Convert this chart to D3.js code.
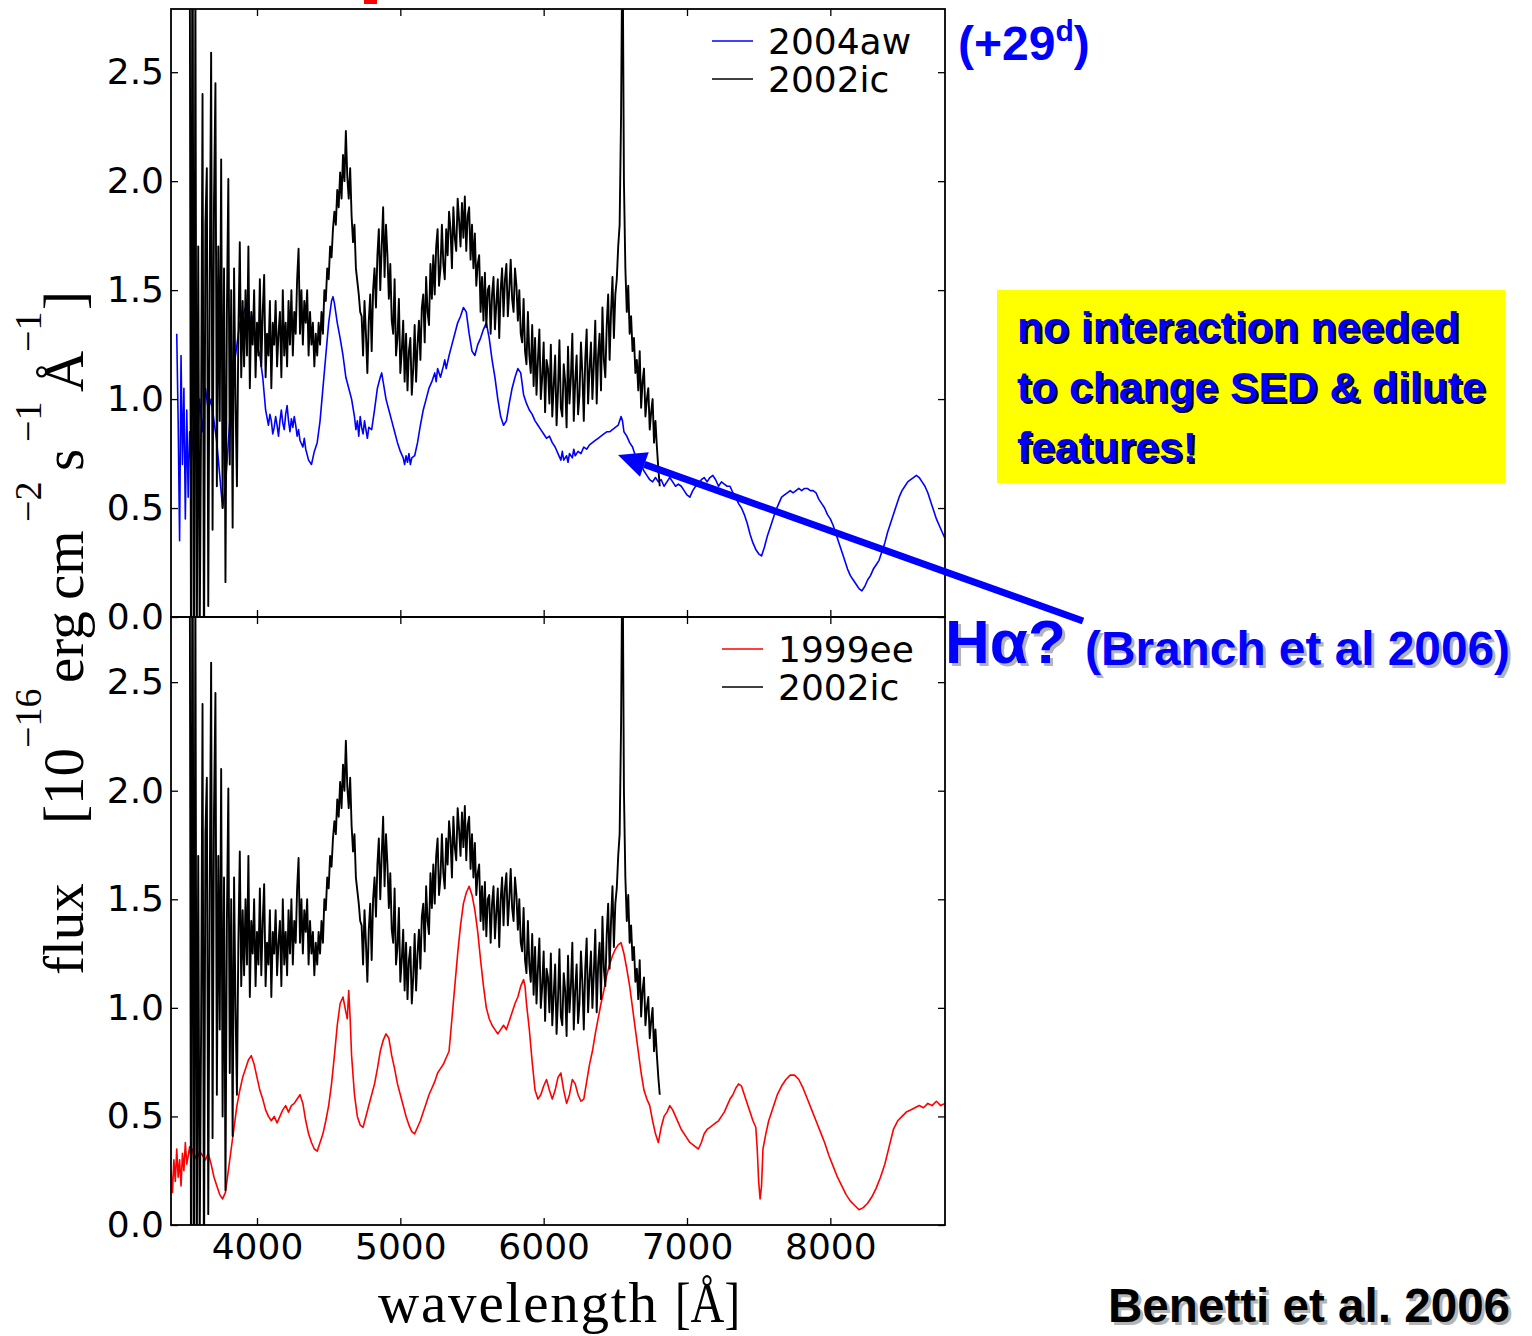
<!DOCTYPE html>
<html>
<head>
<meta charset="utf-8">
<script src="https://cdn.jsdelivr.net/npm/d3@7/dist/d3.min.js"></script>
<style>
  body { margin: 0; background: #fff; }
  svg { display: block; }
  .tick text { font-family: "DejaVu Sans", sans-serif; font-size: 36px; fill: #000; }
  .tick line { stroke: #000; stroke-width: 1.3px; }
</style>
</head>
<body>
<div id="chart"></div>
<script>
// spectra of SN 2004aw, SN 1999ee vs SN 2002ic

var waveTicks = [4000, 5000, 6000, 7000, 8000];
var fluxTicks = [0.0, 0.5, 1.0, 1.5, 2.0, 2.5];

// 2002ic: flux on a 10 A grid starting at 3530 A
var ic2002Start = 3530, ic2002Step = 10;
var sn2002ic = [
  3.5, -0.4, 3.8, -0.6, 3.0, -0.2, 1.7, -0.1, 0.9, 2.4,
  -0.3, 1.8, 2.06, 0.05, 1.5, 2.59, 0.4, 1.9, 2.45, 0.6,
  1.7, 0.9, 2.1, 0.5, 1.6, 0.16, 1.4, 2.01, 0.7, 1.5,
  0.41, 1.6, 1.0, 0.6, 1.3, 1.72, 1.1, 1.45, 1.15, 1.5,
  1.2, 1.7, 1.05, 1.4, 1.25, 1.5, 1.1, 1.35, 1.2, 1.55,
  1.15, 1.4, 1.57, 1.1, 1.3, 1.2, 1.45, 1.05, 1.35, 1.25,
  1.45, 1.15, 1.3, 1.4, 1.1, 1.5, 1.2, 1.35, 1.15, 1.45,
  1.25, 1.5, 1.2, 1.4, 1.3, 1.55, 1.69, 1.3, 1.5, 1.25,
  1.45, 1.35, 1.5, 1.2, 1.4, 1.25, 1.35, 1.15, 1.3, 1.2,
  1.35, 1.25, 1.4, 1.3, 1.5, 1.45, 1.6, 1.55, 1.7, 1.65,
  1.78, 1.86, 1.8, 1.96, 1.88, 2.04, 1.92, 2.12, 2.0, 2.23,
  2.02, 1.92, 2.06, 1.84, 1.72, 1.8, 1.6, 1.54, 1.48, 1.4,
  1.38, 1.2, 1.45, 1.3, 1.12, 1.36, 1.48, 1.22, 1.5, 1.6,
  1.42, 1.66, 1.78, 1.5, 1.7, 1.88, 1.56, 1.8, 1.66, 1.46,
  1.62, 1.36, 1.3, 1.55, 1.2, 1.28, 1.46, 1.12, 1.22, 1.36,
  1.08, 1.3, 1.04, 1.22, 1.28, 1.02, 1.14, 1.34, 1.08, 1.25,
  1.36, 1.18, 1.42, 1.48, 1.26, 1.56, 1.4, 1.34, 1.62, 1.46,
  1.66, 1.48, 1.7, 1.78, 1.52, 1.6, 1.8, 1.62, 1.55, 1.78,
  1.66, 1.86, 1.78, 1.6, 1.88, 1.74, 1.68, 1.92, 1.82, 1.7,
  1.9, 1.74, 1.93, 1.68, 1.84, 1.88, 1.64, 1.8, 1.6, 1.76,
  1.52, 1.62, 1.66, 1.4, 1.56, 1.36, 1.58, 1.33, 1.5, 1.52,
  1.3, 1.48, 1.56, 1.32, 1.44, 1.55, 1.28, 1.5, 1.6, 1.38,
  1.55, 1.62, 1.38, 1.5, 1.64, 1.46, 1.4, 1.6, 1.52, 1.36,
  1.5, 1.3, 1.26, 1.46, 1.22, 1.16, 1.4, 1.2, 1.12, 1.34,
  1.06, 1.28, 1.02, 1.18, 1.32, 1.0, 1.1, 1.26, 0.94, 1.18,
  1.14, 0.98, 1.25, 0.92, 1.06, 1.2, 0.88, 1.04, 1.27, 0.96,
  0.92, 1.16, 1.08, 0.87, 1.24, 0.98, 1.1, 1.3, 0.9, 1.08,
  1.2, 0.93, 1.02, 1.26, 1.12, 0.9, 1.18, 1.32, 0.98, 1.14,
  1.26, 1.0, 1.16, 1.36, 0.98, 1.2, 1.3, 1.04, 1.42, 1.18,
  1.1, 1.34, 1.48, 1.18, 1.4, 1.56, 1.28, 1.48, 1.55, 1.7,
  1.8, 2.3, 3.2, 2.0, 1.6, 1.4, 1.52, 1.3, 1.38, 1.22,
  1.28, 1.12, 1.18, 1.04, 1.22, 0.96, 1.08, 1.14, 0.92, 1.0,
  1.05, 0.86, 0.94, 1.0, 0.8, 0.9, 0.78, 0.68, 0.6
];

// 2004aw: [wavelength, flux]
var sn2004aw = [
  [3440,1.3],[3450,0.9],[3460,0.35],[3470,1.2],[3480,0.7],[3490,1.05],[3500,0.45],[3510,0.95],
  [3520,0.55],[3530,0.85],[3540,0.7],[3560,0.9],[3580,0.75],[3600,1.0],[3620,0.85],[3640,1.05],
  [3660,0.95],[3680,1.0],[3700,0.9],[3720,0.8],[3740,0.65],[3760,0.5],[3780,0.6],[3800,0.8],
  [3820,1.0],[3840,1.15],[3860,1.25],[3880,1.35],[3900,1.38],[3920,1.42],[3940,1.4],[3960,1.35],
  [3980,1.3],[4000,1.25],[4020,1.2],[4040,1.1],[4060,0.95],[4080,0.88],[4090,0.93],[4100,0.9],
  [4110,0.84],[4120,0.87],[4130,0.92],[4140,0.88],[4150,0.83],[4160,0.9],[4170,0.95],[4180,0.89],
  [4190,0.86],[4200,0.93],[4210,0.97],[4220,0.9],[4230,0.85],[4240,0.91],[4250,0.87],[4260,0.92],
  [4270,0.88],[4280,0.83],[4290,0.86],[4300,0.81],[4320,0.78],[4330,0.82],[4340,0.77],[4360,0.72],
  [4380,0.7],[4400,0.76],[4420,0.8],[4440,0.9],[4460,1.05],[4480,1.2],[4500,1.35],[4520,1.45],
  [4530,1.47],[4540,1.44],[4560,1.35],[4580,1.28],[4600,1.2],[4620,1.1],[4640,1.05],[4660,1.0],
  [4680,0.92],[4690,0.86],[4700,0.9],[4710,0.83],[4720,0.92],[4730,0.87],[4740,0.84],[4750,0.9],
  [4760,0.86],[4770,0.82],[4780,0.87],[4800,0.86],[4820,0.95],[4840,1.05],[4860,1.1],[4870,1.12],
  [4880,1.08],[4900,1.0],[4920,0.95],[4940,0.9],[4960,0.85],[4980,0.8],[5000,0.76],[5020,0.73],
  [5030,0.7],[5040,0.74],[5050,0.71],[5060,0.75],[5070,0.7],[5080,0.73],[5100,0.74],[5120,0.8],
  [5140,0.88],[5160,0.95],[5180,1.0],[5200,1.05],[5220,1.08],[5240,1.12],[5250,1.08],[5260,1.14],
  [5280,1.1],[5300,1.15],[5310,1.18],[5320,1.14],[5340,1.2],[5360,1.25],[5380,1.3],[5400,1.35],
  [5420,1.38],[5440,1.42],[5460,1.4],[5480,1.3],[5500,1.22],[5520,1.2],[5540,1.25],[5560,1.28],
  [5580,1.32],[5600,1.35],[5620,1.28],[5640,1.18],[5660,1.1],[5680,1.0],[5700,0.92],[5720,0.88],
  [5740,0.9],[5760,0.98],[5780,1.05],[5800,1.1],[5820,1.14],[5840,1.12],[5860,1.02],[5880,0.98],
  [5900,0.95],[5920,0.93],[5940,0.9],[5960,0.88],[5980,0.86],[6000,0.84],[6020,0.82],[6040,0.83],
  [6060,0.8],[6080,0.78],[6100,0.75],[6120,0.72],[6130,0.76],[6140,0.72],[6160,0.74],[6170,0.71],
  [6180,0.75],[6200,0.73],[6210,0.77],[6220,0.74],[6240,0.76],[6260,0.75],[6280,0.78],[6300,0.77],
  [6320,0.79],[6340,0.8],[6360,0.81],[6380,0.82],[6400,0.83],[6420,0.84],[6440,0.85],[6460,0.85],
  [6480,0.86],[6500,0.87],[6520,0.88],[6540,0.92],[6550,0.9],[6560,0.85],[6580,0.83],[6600,0.8],
  [6620,0.78],[6640,0.74],[6660,0.72],[6680,0.7],[6700,0.67],[6720,0.65],[6740,0.63],[6760,0.62],
  [6780,0.64],[6800,0.62],[6820,0.63],[6840,0.6],[6860,0.62],[6880,0.64],[6900,0.62],[6920,0.6],
  [6940,0.61],[6960,0.6],[6980,0.58],[7000,0.56],[7020,0.55],[7040,0.58],[7060,0.6],[7080,0.61],
  [7100,0.63],[7120,0.64],[7140,0.62],[7160,0.64],[7180,0.65],[7200,0.63],[7220,0.6],[7240,0.62],
  [7260,0.61],[7280,0.6],[7300,0.6],[7320,0.57],[7340,0.55],[7360,0.52],[7380,0.5],[7400,0.47],
  [7420,0.43],[7440,0.38],[7460,0.34],[7480,0.31],[7500,0.29],[7520,0.28],[7540,0.32],[7560,0.37],
  [7580,0.41],[7600,0.45],[7620,0.49],[7640,0.52],[7660,0.55],[7680,0.56],[7700,0.57],[7720,0.58],
  [7740,0.57],[7760,0.58],[7780,0.59],[7800,0.58],[7820,0.59],[7840,0.59],[7860,0.58],[7880,0.58],
  [7900,0.57],[7920,0.54],[7940,0.52],[7960,0.5],[7980,0.47],[8000,0.45],[8020,0.42],[8040,0.38],
  [8060,0.34],[8080,0.3],[8100,0.26],[8120,0.22],[8140,0.19],[8160,0.17],[8180,0.15],[8200,0.13],
  [8220,0.12],[8240,0.14],[8260,0.17],[8280,0.19],[8300,0.22],[8320,0.24],[8340,0.26],[8360,0.3],
  [8380,0.34],[8400,0.39],[8420,0.43],[8440,0.47],[8460,0.51],[8480,0.55],[8500,0.58],[8520,0.6],
  [8540,0.62],[8560,0.63],[8580,0.64],[8600,0.65],[8620,0.64],[8640,0.62],[8660,0.6],[8680,0.57],
  [8700,0.53],[8720,0.49],[8740,0.45],[8760,0.42],[8780,0.39],[8800,0.36]
];

// 1999ee: [wavelength, flux]
var sn1999ee = [
  [3400,0.25],[3410,0.15],[3420,0.3],[3430,0.2],[3440,0.35],[3450,0.22],[3460,0.3],[3470,0.18],
  [3480,0.33],[3490,0.25],[3500,0.38],[3510,0.28],[3520,0.32],[3530,0.36],[3540,0.3],[3550,0.35],
  [3560,0.33],[3580,0.3],[3600,0.34],[3620,0.32],[3640,0.3],[3660,0.33],[3680,0.28],[3700,0.22],
  [3720,0.18],[3740,0.14],[3760,0.12],[3780,0.15],[3800,0.25],[3820,0.35],[3840,0.45],[3860,0.55],
  [3880,0.62],[3900,0.68],[3920,0.72],[3940,0.76],[3960,0.78],[3980,0.74],[4000,0.68],[4020,0.62],
  [4040,0.58],[4060,0.53],[4080,0.5],[4100,0.48],[4120,0.5],[4140,0.47],[4160,0.5],[4180,0.53],
  [4200,0.55],[4220,0.52],[4240,0.55],[4260,0.56],[4280,0.58],[4300,0.6],[4320,0.56],[4340,0.48],
  [4360,0.42],[4380,0.38],[4400,0.35],[4420,0.34],[4440,0.38],[4460,0.42],[4480,0.48],[4500,0.55],
  [4520,0.65],[4540,0.78],[4560,0.92],[4580,1.02],[4600,1.05],[4620,0.98],[4630,0.95],[4640,1.08],
  [4650,0.95],[4660,0.78],[4680,0.6],[4700,0.5],[4720,0.46],[4740,0.45],[4760,0.5],[4780,0.55],
  [4800,0.6],[4820,0.65],[4840,0.72],[4860,0.8],[4880,0.85],[4900,0.88],[4920,0.86],[4940,0.78],
  [4960,0.72],[4980,0.65],[5000,0.6],[5020,0.55],[5040,0.5],[5060,0.46],[5080,0.43],[5100,0.42],
  [5120,0.45],[5140,0.48],[5160,0.52],[5180,0.56],[5200,0.6],[5220,0.63],[5240,0.66],[5260,0.7],
  [5280,0.72],[5300,0.74],[5320,0.77],[5340,0.8],[5360,0.95],[5380,1.1],[5400,1.25],[5420,1.38],
  [5440,1.48],[5460,1.53],[5480,1.56],[5500,1.52],[5520,1.45],[5540,1.35],[5560,1.22],[5580,1.1],
  [5600,1.0],[5620,0.95],[5640,0.92],[5660,0.9],[5680,0.88],[5700,0.9],[5720,0.92],[5740,0.9],
  [5760,0.94],[5780,0.98],[5800,1.02],[5820,1.05],[5840,1.1],[5860,1.13],[5870,1.1],[5880,1.02],
  [5900,0.9],[5920,0.75],[5940,0.62],[5960,0.58],[5980,0.6],[6000,0.64],[6020,0.67],[6040,0.62],
  [6060,0.58],[6080,0.62],[6100,0.68],[6120,0.7],[6140,0.62],[6160,0.56],[6180,0.6],[6200,0.67],
  [6220,0.65],[6240,0.6],[6260,0.57],[6280,0.58],[6300,0.66],[6320,0.74],[6340,0.8],[6360,0.88],
  [6380,0.95],[6400,1.02],[6420,1.08],[6440,1.15],[6460,1.2],[6480,1.24],[6500,1.27],[6520,1.29],
  [6540,1.3],[6560,1.25],[6580,1.18],[6600,1.1],[6620,1.0],[6640,0.9],[6660,0.8],[6680,0.7],
  [6700,0.62],[6720,0.58],[6740,0.55],[6760,0.48],[6780,0.42],[6800,0.38],[6820,0.45],[6840,0.5],
  [6860,0.52],[6880,0.55],[6900,0.53],[6920,0.5],[6940,0.47],[6960,0.44],[6980,0.42],[7000,0.4],
  [7020,0.38],[7040,0.37],[7060,0.36],[7080,0.35],[7100,0.38],[7120,0.42],[7140,0.44],[7160,0.45],
  [7180,0.46],[7200,0.47],[7220,0.48],[7240,0.5],[7260,0.52],[7280,0.55],[7300,0.58],[7320,0.6],
  [7340,0.63],[7360,0.65],[7380,0.64],[7400,0.6],[7420,0.56],[7440,0.52],[7460,0.48],[7480,0.45],
  [7490,0.35],[7500,0.2],[7510,0.12],[7520,0.18],[7530,0.35],[7550,0.42],[7570,0.48],[7600,0.54],
  [7630,0.6],[7660,0.64],[7690,0.67],[7720,0.69],[7750,0.69],[7780,0.67],[7810,0.63],[7840,0.58],
  [7870,0.53],[7900,0.48],[7930,0.43],[7960,0.38],[7990,0.32],[8020,0.27],[8050,0.22],[8080,0.18],
  [8110,0.14],[8140,0.11],[8170,0.09],[8200,0.07],[8230,0.08],[8260,0.1],[8290,0.13],[8320,0.17],
  [8350,0.22],[8380,0.28],[8410,0.36],[8440,0.44],[8470,0.48],[8500,0.5],[8530,0.52],[8560,0.53],
  [8590,0.54],[8620,0.55],[8650,0.54],[8680,0.56],[8710,0.55],[8740,0.57],[8770,0.55],[8800,0.56]
];

var ic2002 = sn2002ic.map(function(f, i){ return [ic2002Start + i*ic2002Step, f]; });

var width = 1532, height = 1336;
var left = 171, right = 945;

var svg = d3.select("#chart").append("svg")
    .attr("width", width).attr("height", height);

var x = d3.scaleLinear().domain([3400, 8800]).range([left, right]);

var panels = [
    { top: 9,   bottom: 617,  ymax: 2.79, series: [{d: sn2004aw, c: "#0000ff", name: "2004aw", w: 1.6}, {d: ic2002, c: "#000", name: "2002ic", w: 1.9}], xlabels: false, legX: 712 },
    { top: 617, bottom: 1225, ymax: 2.8,  series: [{d: sn1999ee, c: "#ff0000", name: "1999ee", w: 1.6}, {d: ic2002, c: "#000", name: "2002ic", w: 1.9}], xlabels: true,  legX: 722 }
];

panels.forEach(function(p, k){
    var y = d3.scaleLinear().domain([0, p.ymax]).range([p.bottom, p.top]);

    svg.append("clipPath").attr("id", "clip" + k)
        .append("rect").attr("x", left).attr("y", p.top)
        .attr("width", right - left).attr("height", p.bottom - p.top);

    var line = d3.line().x(function(d){ return x(d[0]); }).y(function(d){ return y(d[1]); });

    var g = svg.append("g").attr("clip-path", "url(#clip" + k + ")");
    p.series.forEach(function(s){
        g.append("path").datum(s.d)
            .attr("d", line)
            .attr("fill", "none")
            .attr("stroke", s.c)
            .attr("stroke-width", s.w)
            .attr("stroke-linejoin", "round");
    });

    // axes, ticks pointing inward
    svg.append("g").attr("transform", "translate(" + left + ",0)")
        .call(d3.axisLeft(y).tickValues(fluxTicks).tickSize(-7).tickPadding(7).tickFormat(d3.format(".1f")));
    svg.append("g").attr("transform", "translate(" + right + ",0)")
        .call(d3.axisRight(y).tickValues(fluxTicks).tickSize(-7).tickFormat(""));
    svg.append("g").attr("transform", "translate(0," + p.top + ")")
        .call(d3.axisTop(x).tickValues(waveTicks).tickSize(-7).tickFormat(""));
    svg.append("g").attr("transform", "translate(0," + p.bottom + ")")
        .call(d3.axisBottom(x).tickValues(waveTicks).tickSize(-7).tickPadding(8)
            .tickFormat(p.xlabels ? d3.format("d") : ""));

    svg.append("rect").attr("x", left).attr("y", p.top)
        .attr("width", right - left).attr("height", p.bottom - p.top)
        .attr("fill", "none").attr("stroke", "#000").attr("stroke-width", 1.8);

    // legend
    p.series.forEach(function(s, i){
        var ly = p.top + 32 + i * 38;
        svg.append("line").attr("x1", p.legX).attr("x2", p.legX + 41)
            .attr("y1", ly).attr("y2", ly)
            .attr("stroke", s.c).attr("stroke-width", 1.6);
        svg.append("text").attr("x", p.legX + 56).attr("y", ly + 13)
            .attr("font-family", "DejaVu Sans").attr("font-size", 36)
            .text(s.name);
    });
});

svg.selectAll(".domain").remove();

// axis labels
var serif = "Liberation Serif, Times New Roman, serif";
svg.append("text").attr("x", 378).attr("y", 1322)
    .attr("font-family", serif).attr("font-size", 57)
    .attr("textLength", 279).attr("lengthAdjust", "spacing")
    .text("wavelength");
svg.append("text").attr("x", 675).attr("y", 1322)
    .attr("font-family", serif).attr("font-size", 57)
    .attr("textLength", 65).attr("lengthAdjust", "spacingAndGlyphs")
    .text("[Å]");

var ylab = [
    {t: "flux", x: 83, y: 975, s: 57},
    {t: "[10", x: 83, y: 824, s: 57},
    {t: "\u221216", x: 41, y: 748, s: 38},
    {t: "erg", x: 83, y: 683, s: 57},
    {t: "cm", x: 83, y: 600, s: 57},
    {t: "\u22122", x: 41, y: 522, s: 38},
    {t: "s", x: 83, y: 471, s: 57},
    {t: "\u22121", x: 41, y: 442, s: 38},
    {t: "Å", x: 83, y: 392, s: 57},
    {t: "\u22121", x: 41, y: 352, s: 38},
    {t: "]", x: 83, y: 310, s: 57}
];
svg.selectAll(".ylab").data(ylab).enter().append("text")
    .attr("class", "ylab")
    .attr("transform", function(d){ return "translate(" + d.x + "," + d.y + ") rotate(-90)"; })
    .attr("font-family", serif).attr("font-size", function(d){ return d.s; })
    .text(function(d){ return d.t; });

// slide annotations
var sans = "Liberation Sans, Arial, sans-serif";
svg.append("rect").attr("x", 364).attr("y", 0).attr("width", 13).attr("height", 4).attr("fill", "#ff0000");

var t29 = svg.append("text").attr("x", 958).attr("y", 60)
    .attr("font-family", sans).attr("font-weight", "bold").attr("font-size", 48).attr("fill", "#0000ff");
t29.append("tspan").text("(+29");
t29.append("tspan").attr("dy", -19).attr("font-size", 30).text("d");
t29.append("tspan").attr("dy", 19).text(")");

svg.append("rect").attr("x", 997).attr("y", 290).attr("width", 508).attr("height", 193).attr("fill", "#ffff00");
var boxLines = ["no interaction needed", "to change SED & dilute", "features!"];
[["#000", 2], ["#0000ff", 0]].forEach(function(st){
    boxLines.forEach(function(t, i){
        svg.append("text").attr("x", 1017 + st[1]).attr("y", 342 + i * 60 + st[1])
            .attr("font-family", sans).attr("font-weight", "bold").attr("font-size", 42.6)
            .attr("fill", st[0]).text(t);
    });
});

function shadowText(t, xx, yy, size, col){
    [["#b4b4b4", 3], [col, 0]].forEach(function(st){
        svg.append("text").attr("x", xx + st[1]).attr("y", yy + st[1])
            .attr("font-family", sans).attr("font-weight", "bold").attr("font-size", size)
            .attr("fill", st[0]).text(t);
    });
}
shadowText("H\u03b1?", 945, 663, 62, "#0000ff");
shadowText("(Branch et al 2006)", 1085, 665, 47.8, "#0000ff");
shadowText("Benetti et al. 2006", 1108, 1322, 47.6, "#000");

// arrow towards the H-alpha region
var tip = [618, 455], tail = [1083, 621];
var dx = tip[0] - tail[0], dy = tip[1] - tail[1], len = Math.sqrt(dx*dx + dy*dy);
var ux = dx/len, uy = dy/len, hl = 28, hw = 13;
var bx = tip[0] - ux*hl, by = tip[1] - uy*hl;
svg.append("line").attr("x1", tail[0]).attr("y1", tail[1]).attr("x2", bx).attr("y2", by)
    .attr("stroke", "#0000ff").attr("stroke-width", 7);
svg.append("polygon")
    .attr("points", [tip, [bx - uy*hw, by + ux*hw], [bx + uy*hw, by - ux*hw]].map(function(p){ return p.join(","); }).join(" "))
    .attr("fill", "#0000ff");
</script>
</body>
</html>
